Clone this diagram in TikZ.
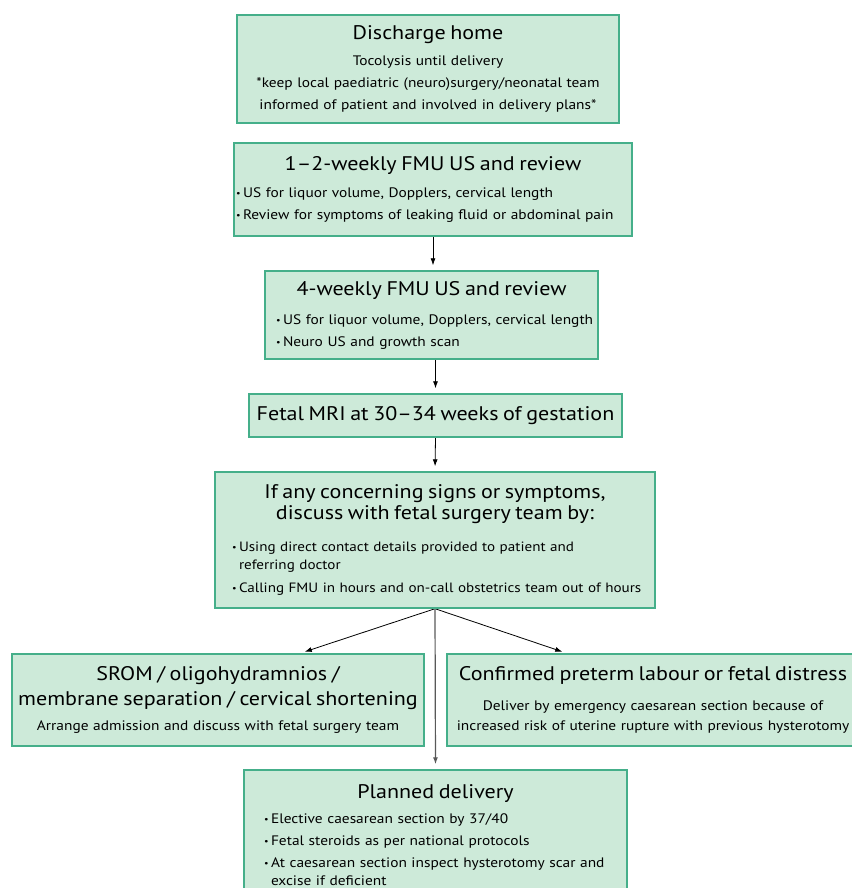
\documentclass[tikz,border=0pt]{standalone}
\usepackage{fontspec}
\setmainfont[FakeStretch=1.12]{PT Sans}
\usetikzlibrary{arrows.meta}
\pgfdeclarelayer{edgelayer}
\pgfdeclarelayer{nodelayer}
\pgfsetlayers{edgelayer,nodelayer,main}
\definecolor{boxfill}{HTML}{CDEAD9}
\definecolor{boxline}{HTML}{45AF8A}
\tikzstyle{stage}=[rectangle,fill=boxfill,draw=boxline,line width=1.4pt,inner sep=0pt,align=left,font=\fontsize{13.75}{17.5}\selectfont]
\tikzstyle{flow}=[-{Latex[length=7pt,width=5pt]},draw=black,line width=0.8pt,shorten >=5pt]
\tikzstyle{mainflow}=[flow,draw=black!65,line width=1.2pt]
\newcommand{\stagehead}[1]{{\centering\fontsize{19.7}{22}\selectfont #1\par}}
\newcommand{\stageline}[1]{{\centering #1\par}}
\newcommand{\stageitem}[1]{\hangindent=7pt\hangafter=1\noindent\makebox[7pt][l]{\raisebox{1pt}{\fontsize{9}{9}\selectfont\textbullet}}#1\par}

\begin{document}
\begin{tikzpicture}[x=1pt,y=-1pt]
	\useasboundingbox (0,0) rectangle (851,888);
	\clip (0,0) rectangle (851,888);
	\begin{pgfonlayer}{nodelayer}
		\node [style=stage, text width=382pt, minimum height=108pt] (0) at (428, 69) {%
			\stagehead{Discharge home}\vspace{8pt}
			\stageline{Tocolysis until delivery}\vspace{4.5pt}
			\stageline{*keep local paediatric (neuro)surgery/neonatal team}\vspace{4.5pt}
			\stageline{informed of patient and involved in delivery plans*}};
		\node [style=stage, text width=398pt, minimum height=93pt] (1) at (433, 189.5) {%
			\stagehead{1--2-weekly FMU US and review}\vspace{10pt}
			\leftskip=2pt
			\stageitem{US for liquor volume, Dopplers, cervical length}\vspace{4.5pt}
			\stageitem{Review for symptoms of leaking fluid or abdominal pain}};
		\node [style=stage, text width=333pt, minimum height=88pt] (2) at (431.5, 315) {%
			\stagehead{4-weekly FMU US and review}\vspace{12pt}
			\leftskip=11pt
			\stageitem{US for liquor volume, Dopplers, cervical length}\vspace{4pt}
			\stageitem{Neuro US and growth scan}};
		\node [style=stage, text width=373pt, minimum height=43pt] (3) at (435.5, 415.5) {%
			\stagehead{Fetal MRI at 30--34 weeks of gestation}};
		\node [style=stage, text width=440pt, minimum height=136pt, font=\fontsize{13.5}{18}\selectfont] (4) at (435, 540) {%
			{\centering\fontsize{19.7}{21}\selectfont If any concerning signs or symptoms,\\ discuss with fetal surgery team by:\par}\vspace{14pt}
			\leftskip=17pt
			\stageitem{Using direct contact details provided to patient and\newline referring doctor}\vspace{5pt}
			\stageitem{Calling FMU in hours and on-call obstetrics team out of hours}};
		\node [style=stage, text width=412pt, minimum height=92pt] (5) at (218, 700) {%
			{\centering\fontsize{19.7}{25}\selectfont SROM / oligohydramnios /\\ membrane separation / cervical shortening\par}\vspace{7pt}
			\stageline{Arrange admission and discuss with fetal surgery team}};
		\node [style=stage, text width=412pt, minimum height=92pt] (6) at (653, 700) {%
			\stagehead{Confirmed preterm labour or fetal distress}\vspace{12pt}
			\stageline{Deliver by emergency caesarean section because of}\vspace{2.5pt}
			\stageline{increased risk of uterine rupture with previous hysterotomy}};
		\node [style=stage, text width=383pt, minimum height=130pt] (7) at (435.5, 835) {%
			\stagehead{Planned delivery}\vspace{8pt}
			\leftskip=20pt
			\stageitem{Elective caesarean section by 37/40}\vspace{4.5pt}
			\stageitem{Fetal steroids as per national protocols}\vspace{4.5pt}
			\stageitem{At caesarean section inspect hysterotomy scar and\newline excise if deficient}};
	\end{pgfonlayer}
	\begin{pgfonlayer}{edgelayer}
		\draw [style=flow] (1.south) to (1.south |- 2.north);
		\draw [style=flow] (2.south -| 3.north) to (3.north);
		\draw [style=flow] (3.south) to (4.north);
		\draw [style=flow] (4.south) to ([xshift=82pt]5.north);
		\draw [style=flow] (4.south) to ([xshift=-86pt]6.north);
		\draw [style=mainflow] (4.south) to (7.north);
	\end{pgfonlayer}
\end{tikzpicture}
\end{document}
